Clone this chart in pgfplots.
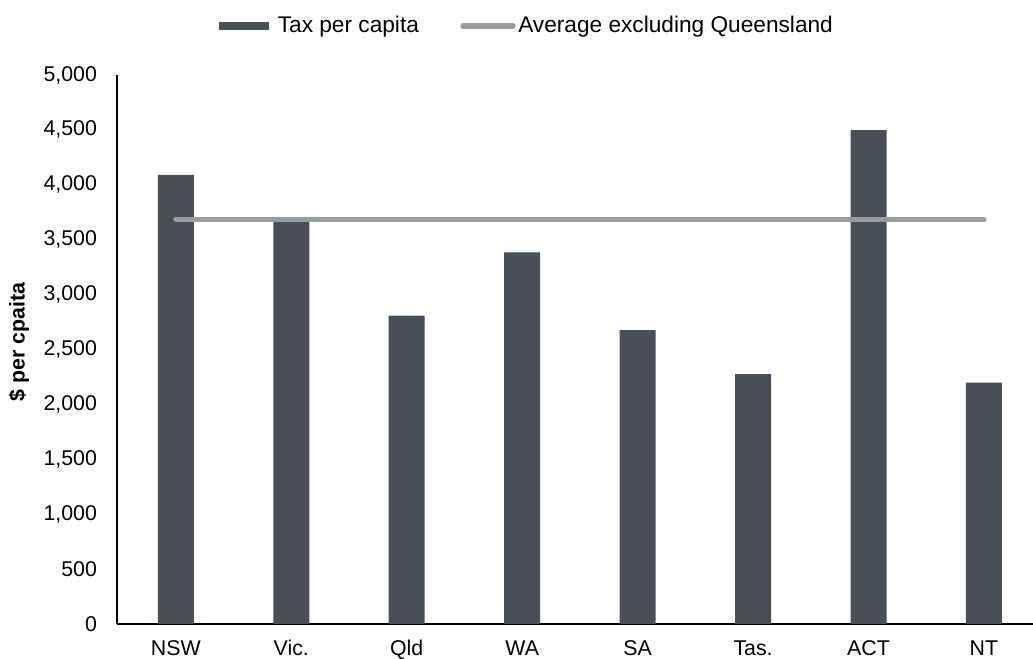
\documentclass[border=0pt]{standalone}
\usepackage{pgfplots}
\pgfplotsset{compat=1.18}
\usepackage{fontspec}
\setmainfont{Liberation Sans}
\definecolor{barc}{HTML}{4A4F57}
\definecolor{linec}{HTML}{9A9D9C}
\begin{document}
\fontsize{16}{19}\selectfont
\begin{tikzpicture}
\begin{axis}[
  name=main,
  scale only axis,
  width=687pt, height=411.75pt,
  xmin=-0.51, xmax=7.425,
  ymin=0, ymax=5000,
  ytick={0,500,...,5000},
  xtick={0,...,7},
  xticklabels={NSW,Vic.,Qld,WA,SA,Tas.,ACT,NT},
  axis x line*=bottom, axis y line*=left,
  axis line style={black, line width=1.3pt, -},
  major tick length=0pt,
  /pgf/number format/assume math mode=true,
  /pgf/number format/1000 sep={,},
  tick label style={font=\fontsize{16}{19}\selectfont},
  yticklabel style={xshift=-9.5pt},
  xticklabel style={yshift=-11.3pt, inner ysep=0.5pt, text height=11.5pt, text depth=2pt},
  ylabel={\bfseries \$ per cpaita},
  ylabel style={font=\fontsize{16}{19}\selectfont, at={(rel axis cs:0,0.5137)}, anchor=center, yshift=73.5pt},
  legend style={draw=none, fill=none, at={(0.448,1.089)}, anchor=center,
    legend columns=2, font=\fontsize{17}{20}\selectfont,
    /tikz/every even column/.append style={column sep=29pt}},
  legend cell align=left,
]
\addplot[ybar, bar width=27pt, fill=barc, draw=none,
  legend image code/.code={\fill[barc] (0pt,-3pt) rectangle (37.5pt,3pt); \path (42pt,0pt);}]
  coordinates {(0,4090) (1,3662) (2,2808) (3,3385) (4,2677) (5,2276) (6,4498) (7,2198)};
\addlegendentry{Tax per capita}
\addplot[linec, line width=4pt, line cap=round,
  legend image code/.code={\draw[linec, line width=4pt, line cap=round] (1.5pt,0pt) -- (39pt,0pt);}]
  coordinates {(0,3682) (1,3682) (2,3682) (3,3682) (4,3682) (5,3682) (6,3682) (7,3682)};
\addlegendentry{Average excluding Queensland}
\end{axis}
\pgfresetboundingbox
\path (main.south west) ++(-87.75pt,-26.25pt) rectangle ([xshift=687pt,yshift=468pt]main.south west);
\end{tikzpicture}
\end{document}
